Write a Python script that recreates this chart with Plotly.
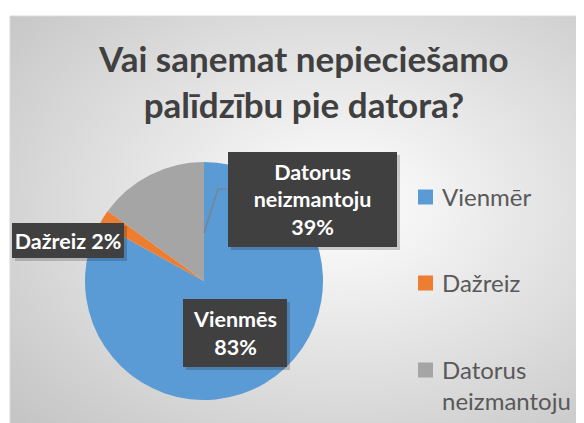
import base64
import plotly.graph_objects as go

# ---- data ----
categories = ["Vienmēr", "Dažreiz", "Datorus<br>neizmantoju"]
values = [83, 2, 15]
label_names = ["Vienmēs", "Dažreiz", "Datorus<br>neizmantoju"]
label_percents = ["83%", "2%", "39%"]
colors = ["#5b9bd5", "#ed7d31", "#a5a5a5"]
title_text = "Vai saņemat nepieciešamo<br>palīdzību pie datora?"

W, H = 584, 423
OFF = 8  # page body margin


def px(x):
    return (x - OFF) / W


def py(y):
    return 1 - (y - OFF) / H


fig = go.Figure()
fig.add_trace(go.Pie(
    labels=categories,
    values=values,
    sort=False,
    direction="clockwise",
    rotation=0,
    marker=dict(colors=colors, line=dict(width=0)),
    textinfo="none",
    hoverinfo="label+percent",
    showlegend=False,
    domain=dict(x=[px(85), px(323)], y=[py(400), py(162)]),
))

# background gradient (chart area)
svg = ('<svg xmlns="http://www.w3.org/2000/svg" width="600" height="420">'
       '<defs><radialGradient id="g" cx="0.55" cy="0.45" r="0.75">'
       '<stop offset="0" stop-color="#ffffff"/><stop offset="1" stop-color="#c4c4c4"/>'
       '</radialGradient></defs><rect width="600" height="420" fill="url(#g)"/></svg>')
src = "data:image/svg+xml;base64," + base64.b64encode(svg.encode()).decode()

annotations = []
shapes = []

# title
annotations.append(dict(
    text="<b>" + title_text + "</b>", x=px(303), y=py(81), xref="paper", yref="paper",
    xanchor="center", yanchor="middle", showarrow=False,
    font=dict(family="Lato", size=35, color="#404040"),
))

# data label boxes (with soft shadow)
boxes = [(183, 299, 287, 367), (12, 223, 124, 258), (228, 152, 397, 247)]
for name, pct, (x0, y0, x1, y1) in zip(label_names, label_percents, boxes):
    sep = " " if name == "Dažreiz" else "<br>"
    shapes.append(dict(
        type="rect", xref="paper", yref="paper",
        x0=px(x0 + 3), x1=px(x1 + 3), y0=py(y1 + 3), y1=py(y0 + 3),
        fillcolor="rgba(0,0,0,0.18)", line=dict(width=0),
    ))
    annotations.append(dict(
        text="<b>" + name + sep + pct + "</b>",
        x=px(x0), y=py(y0), xref="paper", yref="paper",
        xanchor="left", yanchor="top", showarrow=False,
        width=x1 - x0, height=y1 - y0, align="center", valign="middle",
        bgcolor="#404040", borderpad=0, borderwidth=0,
        font=dict(family="Lato", size=21.5, color="#ffffff"),
    ))

# leader line
shapes.append(dict(
    type="path", xref="paper", yref="paper",
    path=f"M {px(228)} {py(189)} L {px(218)} {py(189)} L {px(204)} {py(233)}",
    line=dict(color="#7f7f7f", width=1.2),
))

# chart area border
shapes.append(dict(
    type="rect", xref="paper", yref="paper", layer="below",
    x0=px(10), x1=px(620), y0=py(460), y1=py(16),
    line=dict(color="#d9d9d9", width=1), fillcolor="rgba(0,0,0,0)",
))

# legend
legend_size = 24
legend_y = [197, 283, 370]
for cat, col, ly in zip(categories, colors, legend_y):
    shapes.append(dict(
        type="rect", xref="paper", yref="paper",
        x0=px(418), x1=px(433), y0=py(ly + 7.5), y1=py(ly - 7.5),
        fillcolor=col, line=dict(width=0),
    ))
    annotations.append(dict(
        text=cat, x=px(440), y=py(ly - 0.65 * legend_size - 1.5), xref="paper", yref="paper",
        xanchor="left", yanchor="top", align="left", showarrow=False,
        font=dict(family="Lato", size=legend_size, color="#595959"),
    ))

fig.update_layout(
    width=W, height=H,
    margin=dict(l=0, r=0, t=0, b=0),
    paper_bgcolor="#ffffff",
    annotations=annotations,
    shapes=shapes,
    images=[dict(source=src, xref="paper", yref="paper", x=px(10), y=py(16),
                 sizex=600 / W, sizey=420 / H, sizing="stretch",
                 xanchor="left", yanchor="top", layer="below")],
)

fig.write_html("out.html")
